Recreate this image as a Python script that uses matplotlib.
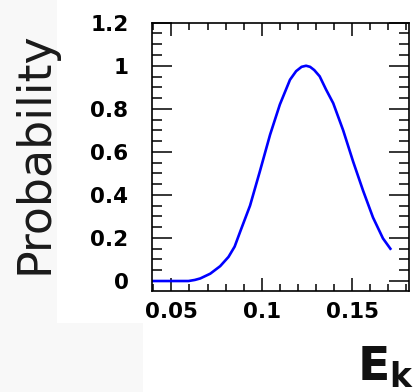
import matplotlib
matplotlib.use('Agg')
import numpy as np
from matplotlib import pyplot as plt
from matplotlib.patches import Rectangle
from matplotlib.ticker import MultipleLocator

matplotlib.rc('font', **{'sans-serif': 'DejaVu Sans',
                         'family': 'sans-serif'})
matplotlib.rc('mathtext', fontset='dejavusans')

# kinetic energy vs. relative probability
ek = [0.039, 0.0595, 0.063, 0.066, 0.0715, 0.077, 0.0816, 0.085, 0.088,
      0.0935, 0.099, 0.1046, 0.110, 0.1156, 0.119, 0.122, 0.1245, 0.1267,
      0.129, 0.132, 0.1355, 0.1395, 0.145, 0.1505, 0.156, 0.1615, 0.167,
      0.1711]
prob = [0.0, 0.0, 0.005, 0.012, 0.034, 0.069, 0.112, 0.16, 0.228,
        0.35, 0.511, 0.68, 0.82, 0.935, 0.975, 0.995, 1.0, 0.995,
        0.98, 0.951, 0.89, 0.826, 0.70, 0.555, 0.42, 0.295, 0.198,
        0.150]

xticks = [0.05, 0.1, 0.15]
xtick_labels = ['0.05', '0.1', '0.15']
yticks = [0, 0.2, 0.4, 0.6, 0.8, 1.0, 1.2]
ytick_labels = ['0', '0.2', '0.4', '0.6', '0.8', '1', '1.2']

W, H = 415, 392
fig = plt.figure(figsize=(W / 100, H / 100), dpi=100, facecolor='#f8f8f8')

# white panel behind the plot
fig.patches.append(Rectangle((57 / W, 1 - 323 / H), 1, 323 / H,
                             transform=fig.transFigure, facecolor='white',
                             edgecolor='none', zorder=-10))
fig.patches.append(Rectangle((143 / W, 0), 1, 1 - 323 / H + 0.001,
                             transform=fig.transFigure, facecolor='white',
                             edgecolor='none', zorder=-10))

ax = fig.add_axes([152 / W, 1 - 290.7 / H, (409 - 152) / W, (290.7 - 22.7) / H])
ax.plot(ek, prob, color='#0000ff', lw=1.9)

ax.set_xlim(0.0393, 0.1814)
ax.set_ylim(-0.045, 1.2)

ax.set_xticks(xticks)
ax.set_xticklabels(xtick_labels)
ax.set_yticks(yticks)
ax.set_yticklabels(ytick_labels)
ax.xaxis.set_minor_locator(MultipleLocator(0.01))
ax.yaxis.set_minor_locator(MultipleLocator(0.05))

ax.tick_params(which='both', direction='in', top=True, right=True,
               width=1.1, color='black', labelsize=15.5)
ax.tick_params(axis='x', which='major', length=9.5, pad=8)
ax.tick_params(axis='x', which='minor', length=5)
ax.tick_params(axis='y', which='major', length=14.4, pad=17)
ax.tick_params(axis='y', which='minor', length=7.2)
for lab in ax.get_xticklabels() + ax.get_yticklabels():
    lab.set_fontweight('bold')
for s in ax.spines.values():
    s.set_linewidth(1.2)

fig.text(35 / W, 1 - 153 / H, 'Probability', rotation=90, ha='center',
         va='center', fontsize=33, color='#1a1a1a')
fig.text(414 / W, 1 / H, r'$\mathbf{E}_\mathbf{k}$', fontsize=34,
         ha='right', va='bottom', color='#111111')

fig.savefig('out.png', dpi=100, facecolor=fig.get_facecolor())
